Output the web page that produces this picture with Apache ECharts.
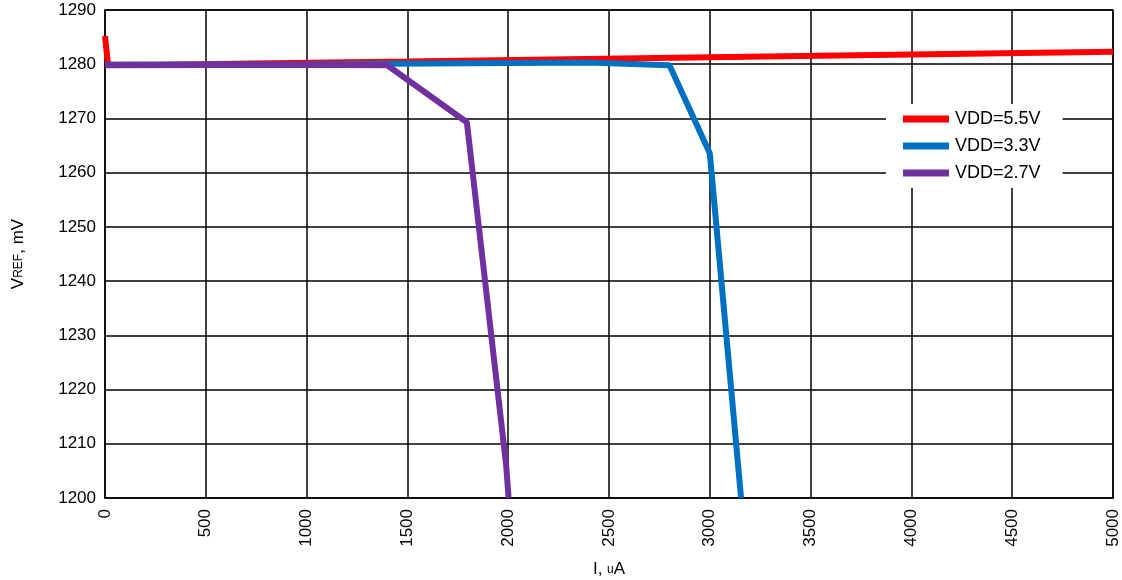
<!DOCTYPE html>
<html><head><meta charset="utf-8">
<script src="https://cdn.jsdelivr.net/npm/echarts@6/dist/echarts.min.js"></script>
<style>html,body{margin:0;padding:0;background:#fff}#c{width:1122px;height:580px}</style>
</head><body><div id="c"></div>
<script>
const seriesNames = ['VDD=5.5V', 'VDD=3.3V', 'VDD=2.7V'];
const seriesColors = ['#ff0000', '#0070c0', '#7030a0'];
const vdd55 = [[0, 1285.2], [15, 1279.9], [250, 1279.9], [1500, 1280.5], [3000, 1281.3], [5000, 1282.3]];
const vdd33 = [[0, 1279.9], [1000, 1280.0], [2400, 1280.3], [2800, 1279.8], [3000, 1263.6], [3155, 1200]];
const vdd27 = [[0, 1279.8], [1000, 1279.9], [1400, 1279.8], [1795, 1269.3], [1990, 1206], [2002, 1200]];
const xTicks = [0, 5000, 500];
const yTicks = [1200, 1290, 10];

const chart = echarts.init(document.getElementById('c'));
const font = '"Liberation Sans", "Noto Sans", sans-serif';
const data = [vdd55, vdd33, vdd27];
chart.setOption({
  animation: false,
  textStyle: {fontFamily: font},
  grid: {left: 105, right: 9, top: 10, bottom: 82, show: true, borderColor: '#111', borderWidth: 1.5,
         outerBoundsMode: 'none', containLabel: false},
  legend: {
    orient: 'vertical', left: 886, top: 104, itemWidth: 46, itemHeight: 7, itemGap: 9,
    backgroundColor: '#fff', padding: [6, 22, 6, 17],
    icon: 'rect',
    textStyle: {fontSize: 18, color: '#000', fontFamily: font, padding: [0, 0, 0, 1]},
    data: seriesNames
  },
  xAxis: {
    type: 'value', min: xTicks[0], max: xTicks[1], interval: xTicks[2],
    axisLine: {lineStyle: {color: '#111', width: 1.5}},
    axisTick: {show: false},
    splitLine: {lineStyle: {color: '#000', width: 1.5}},
    axisLabel: {rotate: 90, fontSize: 17, color: '#000', margin: 11, formatter: v => String(v)},
    name: '{a|I, }{b|u}{a|A}', nameLocation: 'middle', nameGap: 63,
    nameTextStyle: {rich: {a: {fontSize: 17, color: '#000'}, b: {fontSize: 12, color: '#000'}}}
  },
  yAxis: {
    type: 'value', min: yTicks[0], max: yTicks[1], interval: yTicks[2],
    axisLine: {show: true, lineStyle: {color: '#111', width: 1.5}},
    axisTick: {show: false},
    splitLine: {lineStyle: {color: '#000', width: 1.5}},
    axisLabel: {fontSize: 17, color: '#000', margin: 9, formatter: v => String(v)},
    name: '{a|V}{b|REF}{a|, mV}', nameLocation: 'middle', nameGap: 78, nameRotate: 90,
    nameTextStyle: {rich: {a: {fontSize: 17, color: '#000'}, b: {fontSize: 12, color: '#000'}}}
  },
  series: seriesNames.map((n, i) => ({
    name: n, type: 'line', data: data[i], showSymbol: false, symbol: 'none',
    lineStyle: {color: seriesColors[i], width: 6}, itemStyle: {color: seriesColors[i]},
    z: 2 + i
  }))
});
</script></body></html>
